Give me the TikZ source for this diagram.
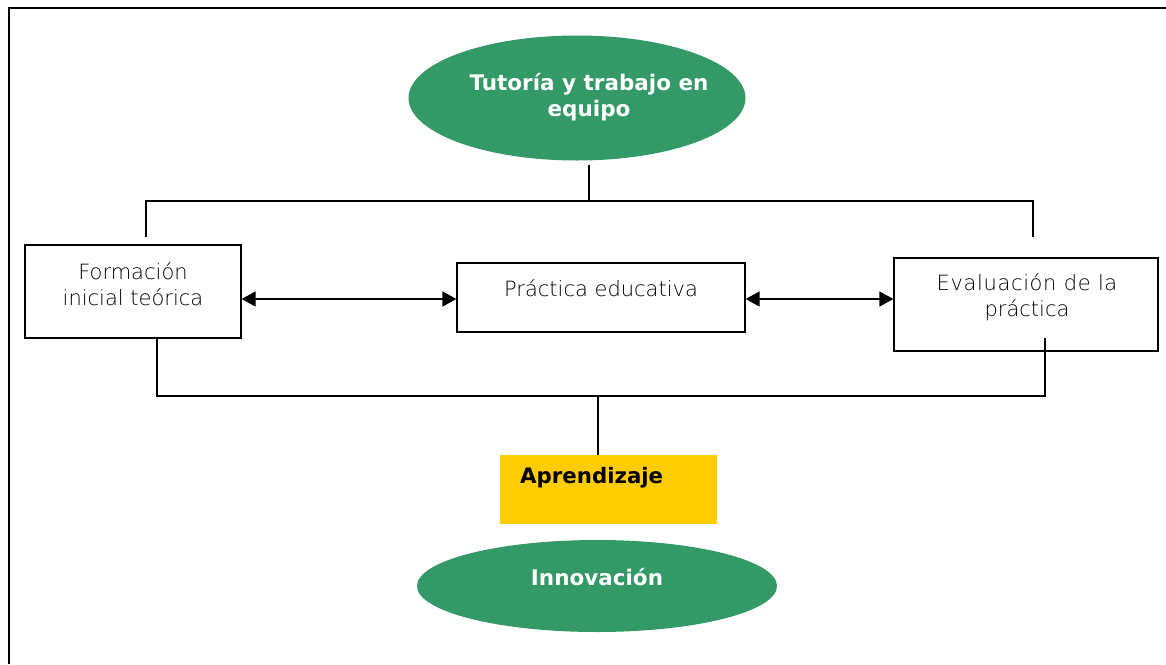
\documentclass[tikz,border=0pt]{standalone}
\usepackage{fontspec}
\setmainfont{DejaVu Sans}
\newfontfamily\lightfont{DejaVu Sans ExtraLight}
\usetikzlibrary{arrows.meta,shapes.geometric}
\definecolor{tgreen}{RGB}{51,153,102}
\definecolor{tyellow}{RGB}{255,204,0}
\tikzset{
  greenell/.style={ellipse, fill=tgreen, inner sep=0pt},
  boldwhite/.style={font=\bfseries\fontsize{21.5}{26}\selectfont, text=white, align=center},
  plainbox/.style={draw=black, line width=1.3pt, inner sep=0pt},
  lighttext/.style={font=\lightfont\fontsize{21}{26}\selectfont, align=center},
  conn/.style={line width=1.5pt, black},
  dbl/.style={line width=1.5pt, {Triangle[length=14pt,width=15pt]}-{Triangle[length=14pt,width=15pt]}}
}
\begin{document}
\begin{tikzpicture}[x=1pt,y=-1pt]
\useasboundingbox (0,0) rectangle (1166,664);
% frame
\draw[line width=2pt] (9,664) -- (9,8) -- (1166,8);
% top ellipse
\node[greenell, minimum width=337pt, minimum height=125pt] (tut) at (577,98) {};
\node[boldwhite] (tuttext) at (589,97) {Tutoría y trabajo en\\equipo};
% boxes
\node[plainbox, minimum width=216pt, minimum height=93pt] (form) at (133,291.5) {};
\node[lighttext] (formt) at (133,284) {Formación\\inicial teórica};
\node[plainbox, minimum width=288pt, minimum height=69pt] (prac) at (601,297.5) {};
\node[lighttext] (pract) at (601,288) {Práctica educativa};
\node[plainbox, minimum width=264pt, minimum height=93pt] (eval) at (1026,304.5) {};
\node[lighttext] (evalt) at (1027,297) {{\addfontfeature{LetterSpace=3}Evaluación de la}\\práctica};
% yellow box
\node[fill=tyellow, minimum width=217pt, minimum height=69pt, inner sep=0pt] (apr) at (608.5,489.5) {};
\node[font=\bfseries\fontsize{21.3}{24}\selectfont, anchor=west, inner sep=0pt] (aprt) at (520,478) {Aprendizaje};
% bottom ellipse
\node[greenell, minimum width=360pt, minimum height=92pt] (inn) at (597,586) {};
\node[boldwhite] (innt) at (597,577) {Innovación};
% connectors top
\coordinate (t0) at (589,165);
\coordinate (tl) at (146,237);
\coordinate (tr) at (1033,237);
\draw[conn] (t0) -- (589,201);
\draw[conn] (tl) -- (146,201) -- (1033,201) -- (tr);
% double arrows
\draw[dbl] (form.east |- 0,299) -- (prac.west |- 0,299);
\draw[dbl] (prac.east |- 0,299) -- (eval.west |- 0,299);
% bottom connectors
\coordinate (bl) at (157,396);
\coordinate (br) at (1045,396);
\coordinate (bm) at (598,396);
\coordinate (e3) at (1045,338);
\draw[conn] (form.south -| bl) -- (bl) -- (br) -- (e3);
\draw[conn] (bm) -- (apr.north -| bm);
\end{tikzpicture}
\end{document}
